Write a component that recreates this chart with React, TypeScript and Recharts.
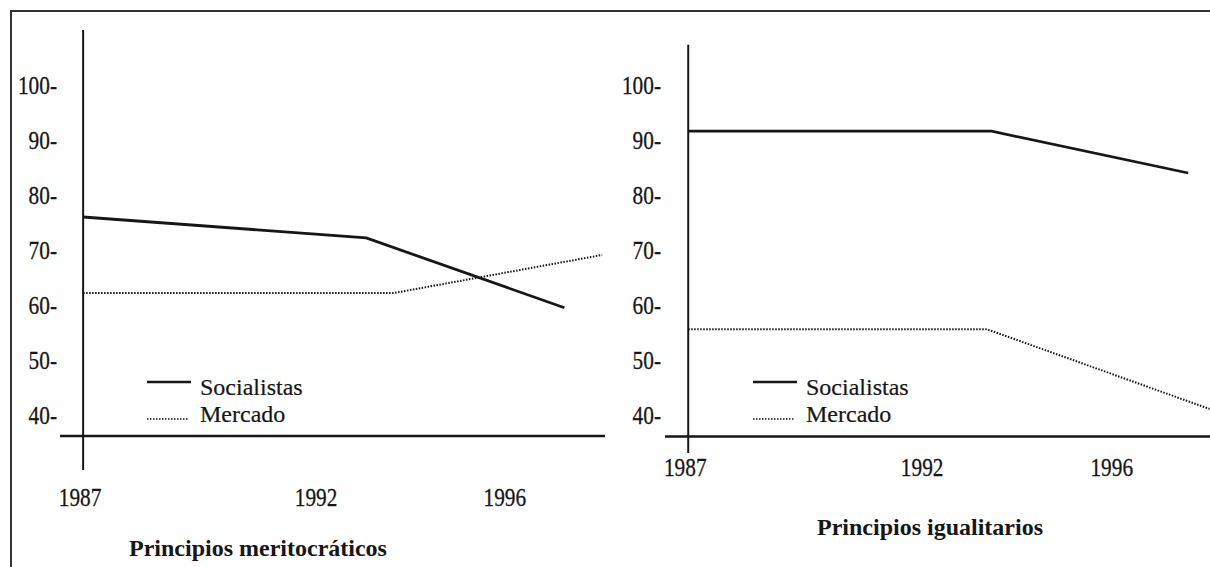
import { LineChart, Line, XAxis, YAxis, ReferenceLine, Legend } from "recharts";

const yearTicks = [1987, 1992, 1996];
const valueTicks = [40, 50, 60, 70, 80, 90, 100];

// Principios meritocráticos
const meritSocialistasYears = [1987, 1993.0, 1997.2];
const meritSocialistas = [76, 72.2, 59.5];
const meritMercadoYears = [1987, 1993.6, 1998.0];
const meritMercado = [62.2, 62.2, 69.1];

// Principios igualitarios
const igualSocialistasYears = [1987, 1993.4, 1997.55];
const igualSocialistas = [91.6, 91.6, 84.0];
const igualMercadoYears = [1987, 1993.3, 1998.0];
const igualMercado = [55.6, 55.6, 41.1];

const toRows = (years: number[], values: number[]) =>
  years.map((year, i) => ({ year, value: values[i] }));

const FONT = "Liberation Serif, Times New Roman, serif";
const INK = "#161616";

// scanned type is tall and narrow, squeeze it a bit
const tickText = { fontFamily: FONT, fontSize: 26, fill: INK, stroke: INK, strokeWidth: 0.3 };

function LegendBox() {
  const txt = { fontFamily: FONT, fontSize: 24, fill: INK, stroke: INK, strokeWidth: 0.2 };
  return (
    <svg width={200} height={60} style={{ display: "block" }}>
      <line x1={0} y1={12} x2={44} y2={12} stroke={INK} strokeWidth={2.5} />
      <text x={53} y={25} style={txt}>Socialistas</text>
      <line x1={0} y1={49} x2={41} y2={49} stroke={INK} strokeWidth={1.5} strokeDasharray="1.5 1.5" />
      <text x={53} y={52} style={txt}>Mercado</text>
    </svg>
  );
}

function YearTick(props: any) {
  const { x, y, payload, offset } = props;
  return (
    <text
      transform={`translate(${x - 3},${y + offset}) scale(0.82,1)`}
      textAnchor="middle"
      dominantBaseline="central"
      style={tickText}
    >
      {payload.value}
    </text>
  );
}

function ValueTick(props: any) {
  const { x, y, payload } = props;
  return (
    <text
      transform={`translate(${x},${y}) scale(0.82,1)`}
      textAnchor="end"
      dominantBaseline="central"
      style={tickText}
    >
      {`${payload.value}-`}
    </text>
  );
}

type PanelProps = {
  left: number;
  width: number;
  marginRight: number;
  xDomain: [number, number];
  yAxisFrom: number;
  yAxisTo: number;
  xAxisAt: number;
  labelOffset: number;
  tickMargin: number;
  soc: { year: number; value: number }[];
  merc: { year: number; value: number }[];
  legendLeft: number;
};

function Panel(p: PanelProps) {
  return (
    <div style={{ position: "absolute", left: p.left, top: 0 }}>
      <LineChart width={p.width} height={567} margin={{ top: 30, right: p.marginRight, bottom: 0, left: 0 }}>
        <XAxis
          dataKey="year"
          type="number"
          domain={p.xDomain}
          allowDataOverflow
          ticks={yearTicks}
          axisLine={false}
          tickLine={false}
          tickSize={0}
          tickMargin={0}
          height={97}
          interval={0}
          tick={<YearTick offset={p.labelOffset} />}
        />
        <YAxis
          type="number"
          domain={[30, 110]}
          ticks={valueTicks}
          axisLine={false}
          tickLine={false}
          tickSize={0}
          tickMargin={p.tickMargin}
          width={60}
          interval={0}
          tick={<ValueTick />}
        />
        <ReferenceLine
          segment={[{ x: 1987, y: p.yAxisFrom }, { x: 1987, y: p.yAxisTo }]}
          stroke={INK}
          strokeWidth={2}
        />
        <ReferenceLine y={p.xAxisAt} stroke={INK} strokeWidth={2.5} />
        <Line
          data={p.soc}
          dataKey="value"
          type="linear"
          stroke={INK}
          strokeWidth={2.8}
          dot={false}
          isAnimationActive={false}
        />
        <Line
          data={p.merc}
          dataKey="value"
          type="linear"
          stroke={INK}
          strokeWidth={2}
          strokeDasharray="1.5 1.5"
          dot={false}
          isAnimationActive={false}
        />
        <Legend
          layout="vertical"
          align="center"
          verticalAlign="middle"
          content={<LegendBox />}
          wrapperStyle={{ position: "absolute", left: p.legendLeft, top: 370, width: 200 }}
        />
      </LineChart>
    </div>
  );
}

export default function App() {
  return (
    <div style={{ position: "absolute", left: 0, top: 0, width: 1210, height: 567, background: "#fff", overflow: "hidden", fontFamily: FONT }}>
      <div style={{ position: "absolute", left: 10, top: 10, width: 1200, borderTop: "2px solid #333" }} />
      <div style={{ position: "absolute", left: 10, top: 10, height: 557, borderLeft: "2px solid #333" }} />

      <Panel
        left={0}
        width={615}
        marginRight={10}
        xDomain={[1986.51, 1998.06]}
        yAxisFrom={30}
        yAxisTo={110}
        xAxisAt={36.2}
        labelOffset={27}
        tickMargin={3}
        soc={toRows(meritSocialistasYears, meritSocialistas)}
        merc={toRows(meritMercadoYears, meritMercado)}
        legendLeft={147}
      />
      <Panel
        left={605}
        width={605}
        marginRight={0}
        xDomain={[1986.51, 1998.01]}
        yAxisFrom={33.1}
        yAxisTo={107.3}
        xAxisAt={36.1}
        labelOffset={-3}
        tickMargin={4}
        soc={toRows(igualSocialistasYears, igualSocialistas)}
        merc={toRows(igualMercadoYears, igualMercado)}
        legendLeft={148}
      />

      <div style={{ position: "absolute", left: 258, top: 535, transform: "translateX(-50%)", whiteSpace: "nowrap", fontWeight: "bold", fontSize: 24, lineHeight: "26px", color: INK }}>
        Principios meritocráticos
      </div>
      <div style={{ position: "absolute", left: 930, top: 514, transform: "translateX(-50%)", whiteSpace: "nowrap", fontWeight: "bold", fontSize: 24, lineHeight: "26px", color: INK }}>
        Principios igualitarios
      </div>
    </div>
  );
}
